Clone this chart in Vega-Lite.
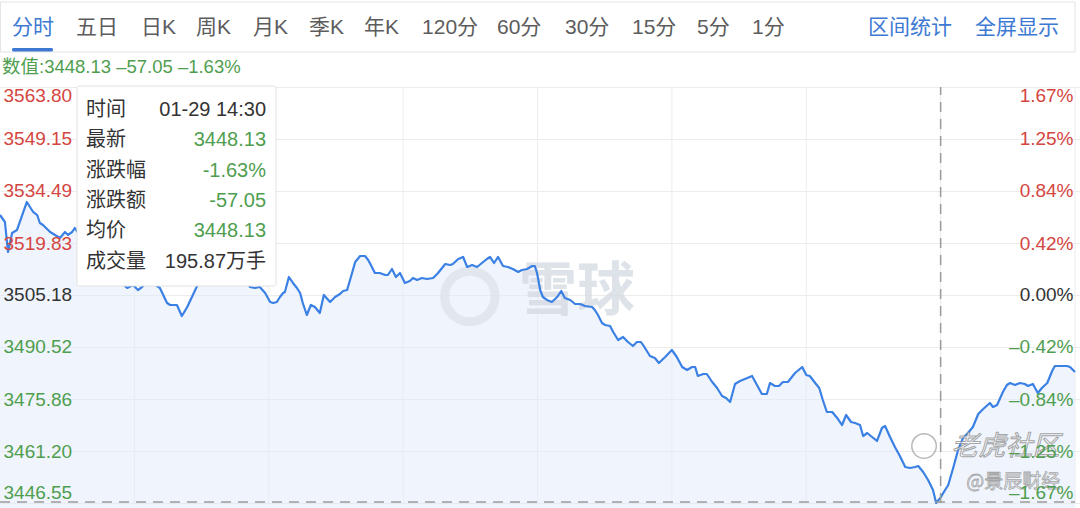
{
  "$schema": "https://vega.github.io/schema/vega-lite/v6.json",
  "width": 1080,
  "height": 508,
  "padding": 0,
  "autosize": "none",
  "background": "#ffffff",
  "config": {"view": {"stroke": null}, "font": "Liberation Sans, Noto Sans CJK SC"},
  "resolve": {"axis": {"y": "independent", "x": "independent"}},
  "datasets": {
    "series": [
      {"minute": 0, "price": 3527.72}, {"minute": 1.1, "price": 3525.75}, {"minute": 1.8, "price": 3517.29}, {"minute": 2.7, "price": 3522.65},
      {"minute": 3.8, "price": 3523.50}, {"minute": 6.0, "price": 3531.39}, {"minute": 7.4, "price": 3528.57}, {"minute": 8.3, "price": 3527.72},
      {"minute": 8.9, "price": 3525.47}, {"minute": 9.6, "price": 3524.90}, {"minute": 11.2, "price": 3522.93}, {"minute": 12.3, "price": 3522.09},
      {"minute": 13.4, "price": 3521.24}, {"minute": 14.5, "price": 3522.93}, {"minute": 15.2, "price": 3522.09}, {"minute": 16.1, "price": 3522.93},
      {"minute": 16.7, "price": 3524.06}, {"minute": 17.9, "price": 3521.80}, {"minute": 19.2, "price": 3519.27}, {"minute": 20.5, "price": 3517.29},
      {"minute": 21.9, "price": 3515.04}, {"minute": 23.2, "price": 3513.35}, {"minute": 24.6, "price": 3511.66}, {"minute": 25.9, "price": 3510.25},
      {"minute": 27.2, "price": 3508.56}, {"minute": 28.4, "price": 3507.15}, {"minute": 29.7, "price": 3507.99}, {"minute": 30.8, "price": 3506.58},
      {"minute": 31.7, "price": 3507.43}, {"minute": 33.0, "price": 3508.84}, {"minute": 34.4, "price": 3508.28}, {"minute": 35.7, "price": 3507.15},
      {"minute": 37.3, "price": 3502.92}, {"minute": 38.0, "price": 3502.36}, {"minute": 39.5, "price": 3502.36}, {"minute": 40.6, "price": 3499.26},
      {"minute": 41.8, "price": 3501.79}, {"minute": 44.0, "price": 3507.71}, {"minute": 45.3, "price": 3510.81}, {"minute": 46.9, "price": 3512.79},
      {"minute": 48.2, "price": 3514.48}, {"minute": 49.6, "price": 3512.22}, {"minute": 50.9, "price": 3513.63}, {"minute": 52.2, "price": 3515.60},
      {"minute": 53.6, "price": 3512.79}, {"minute": 54.7, "price": 3509.97}, {"minute": 55.8, "price": 3507.43}, {"minute": 56.9, "price": 3507.15},
      {"minute": 58.0, "price": 3507.43}, {"minute": 59.2, "price": 3505.74},
      {"minute": 60.3, "price": 3503.20}, {"minute": 61.0, "price": 3502.92}, {"minute": 61.8, "price": 3503.20}, {"minute": 62.5, "price": 3504.61},
      {"minute": 63.2, "price": 3505.74}, {"minute": 63.6, "price": 3506.02}, {"minute": 64.5, "price": 3510.25}, {"minute": 65.4, "price": 3508.56},
      {"minute": 66.3, "price": 3507.15}, {"minute": 67.0, "price": 3505.74}, {"minute": 67.6, "price": 3502.92}, {"minute": 68.5, "price": 3499.54},
      {"minute": 69.4, "price": 3502.36}, {"minute": 70.3, "price": 3501.79}, {"minute": 71.4, "price": 3500.10}, {"minute": 72.3, "price": 3505.18},
      {"minute": 73.7, "price": 3503.20}, {"minute": 74.8, "price": 3504.61}, {"minute": 75.9, "price": 3505.46}, {"minute": 76.6, "price": 3506.30},
      {"minute": 77.5, "price": 3506.58}, {"minute": 78.6, "price": 3511.38}, {"minute": 79.3, "price": 3514.48}, {"minute": 80.4, "price": 3516.17},
      {"minute": 81.5, "price": 3516.17}, {"minute": 82.2, "price": 3515.04}, {"minute": 82.8, "price": 3513.63}, {"minute": 83.7, "price": 3511.38},
      {"minute": 84.8, "price": 3511.38}, {"minute": 86.0, "price": 3510.81}, {"minute": 86.6, "price": 3510.81}, {"minute": 87.5, "price": 3512.50},
      {"minute": 88.4, "price": 3510.25}, {"minute": 89.3, "price": 3511.38}, {"minute": 90.4, "price": 3508.56}, {"minute": 91.5, "price": 3509.12},
      {"minute": 92.2, "price": 3509.97}, {"minute": 93.1, "price": 3509.40}, {"minute": 94.2, "price": 3509.97}, {"minute": 95.3, "price": 3509.69},
      {"minute": 96.7, "price": 3509.97}, {"minute": 97.8, "price": 3511.38}, {"minute": 99.4, "price": 3513.91}, {"minute": 100.5, "price": 3513.63},
      {"minute": 101.1, "price": 3513.91}, {"minute": 102.3, "price": 3515.32}, {"minute": 103.4, "price": 3515.89}, {"minute": 104.3, "price": 3513.07},
      {"minute": 105.4, "price": 3513.63}, {"minute": 106.5, "price": 3513.07}, {"minute": 107.6, "price": 3514.19}, {"minute": 108.7, "price": 3515.32},
      {"minute": 109.4, "price": 3515.89}, {"minute": 110.3, "price": 3514.19}, {"minute": 111.2, "price": 3515.89}, {"minute": 112.3, "price": 3513.35},
      {"minute": 113.4, "price": 3513.07}, {"minute": 114.5, "price": 3512.50}, {"minute": 115.7, "price": 3511.66}, {"minute": 116.5, "price": 3512.22},
      {"minute": 117.7, "price": 3512.50}, {"minute": 118.8, "price": 3513.35}, {"minute": 119.4, "price": 3513.35}, {"minute": 119.9, "price": 3511.38},
      {"minute": 120.6, "price": 3506.58}, {"minute": 121.2, "price": 3504.61}, {"minute": 122.1, "price": 3503.77}, {"minute": 123.2, "price": 3503.20},
      {"minute": 124.4, "price": 3504.61}, {"minute": 125.3, "price": 3506.30}, {"minute": 126.1, "price": 3504.33}, {"minute": 127.3, "price": 3503.77},
      {"minute": 128.4, "price": 3502.64}, {"minute": 129.5, "price": 3502.64}, {"minute": 130.6, "price": 3502.08}, {"minute": 132.2, "price": 3501.79},
      {"minute": 132.8, "price": 3500.95}, {"minute": 133.5, "price": 3499.54}, {"minute": 134.4, "price": 3497.28}, {"minute": 135.1, "price": 3496.72},
      {"minute": 136.2, "price": 3496.44}, {"minute": 136.9, "price": 3494.75}, {"minute": 138.0, "price": 3492.49}, {"minute": 139.1, "price": 3493.34},
      {"minute": 140.2, "price": 3491.93}, {"minute": 141.3, "price": 3490.80}, {"minute": 142.2, "price": 3491.93}, {"minute": 143.1, "price": 3491.93},
      {"minute": 144.0, "price": 3490.24}, {"minute": 145.1, "price": 3487.98}, {"minute": 146.2, "price": 3487.42}, {"minute": 147.1, "price": 3486.01},
      {"minute": 148.5, "price": 3487.70}, {"minute": 150.0, "price": 3489.67}, {"minute": 151.1, "price": 3487.70}, {"minute": 152.3, "price": 3484.88},
      {"minute": 153.4, "price": 3484.04}, {"minute": 154.5, "price": 3484.88}, {"minute": 155.2, "price": 3484.88}, {"minute": 155.8, "price": 3482.35},
      {"minute": 157.0, "price": 3482.91}, {"minute": 157.8, "price": 3482.91}, {"minute": 159.0, "price": 3480.65}, {"minute": 160.1, "price": 3478.96},
      {"minute": 161.2, "price": 3476.71}, {"minute": 162.1, "price": 3476.14}, {"minute": 163.0, "price": 3475.02}, {"minute": 164.1, "price": 3480.09},
      {"minute": 165.2, "price": 3480.94}, {"minute": 166.3, "price": 3481.50}, {"minute": 167.9, "price": 3482.35}, {"minute": 169.0, "price": 3479.81},
      {"minute": 170.1, "price": 3477.27}, {"minute": 171.2, "price": 3477.27}, {"minute": 171.9, "price": 3480.37}, {"minute": 173.0, "price": 3479.53},
      {"minute": 173.9, "price": 3479.53}, {"minute": 174.8, "price": 3480.65}, {"minute": 175.9, "price": 3480.65}, {"minute": 177.5, "price": 3483.19},
      {"minute": 179.1, "price": 3484.88}, {"minute": 180.0, "price": 3482.63}, {"minute": 180.8, "price": 3482.35}, {"minute": 182.0, "price": 3480.37},
      {"minute": 182.9, "price": 3478.96}, {"minute": 183.7, "price": 3475.58}, {"minute": 184.6, "price": 3472.20}, {"minute": 185.8, "price": 3472.20},
      {"minute": 186.9, "price": 3470.51}, {"minute": 188.0, "price": 3468.53}, {"minute": 188.9, "price": 3471.35}, {"minute": 190.0, "price": 3469.38},
      {"minute": 190.9, "price": 3469.10}, {"minute": 192.0, "price": 3468.53}, {"minute": 192.7, "price": 3465.43}, {"minute": 193.6, "price": 3466.28},
      {"minute": 194.7, "price": 3465.15}, {"minute": 195.8, "price": 3464.03}, {"minute": 196.9, "price": 3467.69}, {"minute": 197.6, "price": 3468.25},
      {"minute": 198.7, "price": 3465.15}, {"minute": 199.8, "price": 3462.33}, {"minute": 200.9, "price": 3459.80}, {"minute": 202.1, "price": 3456.70},
      {"minute": 203.2, "price": 3456.42}, {"minute": 204.3, "price": 3456.70}, {"minute": 205.0, "price": 3456.98}, {"minute": 206.1, "price": 3455.29},
      {"minute": 207.2, "price": 3453.03}, {"minute": 208.3, "price": 3450.21}, {"minute": 209.0, "price": 3446.55}, {"minute": 210.0, "price": 3448.13},
      {"minute": 211.0, "price": 3450.21}, {"minute": 211.7, "price": 3451.62}, {"minute": 212.8, "price": 3456.42}, {"minute": 213.9, "price": 3461.49},
      {"minute": 215.0, "price": 3464.87}, {"minute": 216.1, "price": 3466.28}, {"minute": 217.2, "price": 3467.97}, {"minute": 218.4, "price": 3471.63},
      {"minute": 219.5, "price": 3473.04}, {"minute": 221.0, "price": 3474.74}, {"minute": 221.7, "price": 3473.61}, {"minute": 222.6, "price": 3474.17},
      {"minute": 223.9, "price": 3477.84}, {"minute": 224.8, "price": 3479.81}, {"minute": 225.5, "price": 3480.37}, {"minute": 226.6, "price": 3479.81},
      {"minute": 227.7, "price": 3480.37}, {"minute": 228.8, "price": 3480.09}, {"minute": 229.5, "price": 3479.53}, {"minute": 230.6, "price": 3480.09},
      {"minute": 231.7, "price": 3477.55}, {"minute": 232.6, "price": 3478.96}, {"minute": 233.8, "price": 3480.37}, {"minute": 234.9, "price": 3483.75},
      {"minute": 235.5, "price": 3485.16}, {"minute": 237.1, "price": 3485.16}, {"minute": 238.2, "price": 3485.16}, {"minute": 238.9, "price": 3484.88},
      {"minute": 240.0, "price": 3483.47}
    ],
    "vgrid": [{"minute": 30}, {"minute": 60}, {"minute": 90}, {"minute": 120}, {"minute": 150}, {"minute": 180}, {"minute": 210}, {"minute": 240}],
    "tabs": [
      {"label": "分时", "at": 2.68}, {"label": "五日", "at": 16.97}, {"label": "日K", "at": 31.48}, {"label": "周K", "at": 43.76},
      {"label": "月K", "at": 56.49}, {"label": "季K", "at": 68.99}, {"label": "年K", "at": 81.27}, {"label": "120分", "at": 94.22},
      {"label": "60分", "at": 110.96}, {"label": "30分", "at": 126.14}, {"label": "15分", "at": 141.10}, {"label": "5分", "at": 155.62},
      {"label": "1分", "at": 167.89}, {"label": "区间统计", "at": 193.79}, {"label": "全屏显示", "at": 217.68}
    ],
    "tip": [
      {"k": "时间", "v": "01-29 14:30", "p": 3557.32},
      {"k": "最新", "v": "3448.13", "p": 3548.86},
      {"k": "涨跌幅", "v": "-1.63%", "p": 3540.12},
      {"k": "涨跌额", "v": "-57.05", "p": 3531.67},
      {"k": "均价", "v": "3448.13", "p": 3523.21},
      {"k": "成交量", "v": "195.87万手", "p": 3514.48}
    ],
    "one": [{}]
  },
  "layer": [
    {
      "data": {"name": "vgrid"},
      "mark": {"type": "rule", "color": "#ececec", "strokeWidth": 1},
      "encoding": {
        "x": {"field": "minute", "type": "quantitative", "scale": {"domain": [0, 241.116], "nice": false, "zero": false}, "axis": null},
        "y": {"datum": 3446.55, "type": "quantitative", "scale": {"domain": [3445.14, 3588.32], "nice": false, "zero": false}, "axis": null},
        "y2": {"datum": 3563.80}
      }
    },
    {
      "data": {"name": "series"},
      "mark": {"type": "area", "color": "#e3edfb", "opacity": 0.55},
      "encoding": {
        "x": {"field": "minute", "type": "quantitative", "scale": {"domain": [0, 241.116], "nice": false, "zero": false}, "axis": null},
        "y": {"field": "price", "type": "quantitative", "scale": {"domain": [3445.14, 3588.32], "nice": false, "zero": false},
          "axis": {
            "orient": "left", "title": null, "values": [3446.55, 3461.20, 3475.86, 3490.52, 3505.18, 3519.83, 3534.49, 3549.15, 3563.80],
            "domain": false, "ticks": false, "labels": false, "grid": true, "gridColor": "#ececec", "gridWidth": 1, "zindex": 0
          }
        },
        "y2": {"datum": 3445.14}
      }
    },
    {
      "data": {"name": "one"},
      "mark": {"type": "point", "shape": "circle", "filled": false, "stroke": "#dde2e9", "strokeWidth": 9, "size": 2550},
      "encoding": {
        "x": {"datum": 104.9, "type": "quantitative", "scale": {"domain": [0, 241.116], "nice": false, "zero": false}, "axis": null},
        "y": {"datum": 3504.75, "type": "quantitative", "scale": {"domain": [3445.14, 3588.32], "nice": false, "zero": false}, "axis": null}
      }
    },
    {
      "data": {"name": "one"},
      "mark": {"type": "text", "text": "雪球", "font": "Noto Sans CJK SC", "fontSize": 58, "fontWeight": "bold", "color": "#d6dce4", "opacity": 0.8, "align": "center", "baseline": "middle"},
      "encoding": {
        "x": {"datum": 128.8, "type": "quantitative", "scale": {"domain": [0, 241.116], "nice": false, "zero": false}, "axis": null},
        "y": {"datum": 3505.74, "type": "quantitative", "scale": {"domain": [3445.14, 3588.32], "nice": false, "zero": false}, "axis": null}
      }
    },
    {
      "data": {"name": "series"},
      "mark": {"type": "line", "color": "#3b80e4", "strokeWidth": 2.2, "strokeJoin": "round"},
      "encoding": {
        "x": {"field": "minute", "type": "quantitative", "scale": {"domain": [0, 241.116], "nice": false, "zero": false}, "axis": null},
        "y": {"field": "price", "type": "quantitative", "scale": {"domain": [3445.14, 3588.32], "nice": false, "zero": false},
          "axis": {
            "orient": "right", "title": null, "values": [3446.55, 3461.20, 3475.86, 3490.52, 3505.18, 3519.83, 3534.49, 3549.15, 3563.80],
            "labelExpr": "(datum.value < 3505 ? '–' : '') + format(abs(datum.value - 3505.18) / 3505.18 * 100, '.2f') + '%'",
            "domain": false, "ticks": false, "tickSize": 0, "grid": false,
            "labelAlign": "right", "labelPadding": -7, "labelFont": "Liberation Sans", "labelFontSize": 19,
            "labelColor": {"condition": [{"test": "datum.value > 3506", "value": "#d4463f"}, {"test": "datum.value < 3504", "value": "#4f9e4f"}], "value": "#333333"},
            "labelBaseline": {"condition": [{"test": "datum.value > 3563", "value": "top"}, {"test": "datum.value < 3447", "value": "bottom"}], "value": "middle"},
            "labelOverlap": false, "labelBound": false, "labelFlush": false, "zindex": 1
          }
        }
      }
    },
    {
      "data": {"name": "one"},
      "mark": {"type": "rule", "color": "#9a9a9a", "strokeWidth": 1.5, "strokeDash": [10, 7]},
      "encoding": {
        "x": {"datum": 210, "type": "quantitative", "scale": {"domain": [0, 241.116], "nice": false, "zero": false}, "axis": null},
        "y": {"datum": 3446.55, "type": "quantitative", "scale": {"domain": [3445.14, 3588.32], "nice": false, "zero": false}, "axis": null},
        "y2": {"datum": 3563.80}
      }
    },
    {
      "data": {"name": "one"},
      "mark": {"type": "rule", "color": "#9a9a9a", "strokeWidth": 1.5, "strokeDash": [10, 7]},
      "encoding": {
        "x": {"datum": 0, "type": "quantitative", "scale": {"domain": [0, 241.116], "nice": false, "zero": false}, "axis": null},
        "x2": {"datum": 240},
        "y": {"datum": 3446.80, "type": "quantitative", "scale": {"domain": [3445.14, 3588.32], "nice": false, "zero": false}, "axis": null}
      }
    },
    {
      "data": {"name": "one"},
      "mark": {"type": "rect", "fill": "#ffffff", "stroke": "#e2e2e2", "strokeWidth": 1, "cornerRadius": 2},
      "encoding": {
        "x": {"datum": 17.19, "type": "quantitative", "scale": {"domain": [0, 241.116], "nice": false, "zero": false}, "axis": null},
        "x2": {"datum": 61.62},
        "y": {"datum": 3564.08, "type": "quantitative", "scale": {"domain": [3445.14, 3588.32], "nice": false, "zero": false}, "axis": null},
        "y2": {"datum": 3507.71}
      }
    },
    {
      "data": {"name": "tip"},
      "mark": {"type": "text", "align": "left", "baseline": "middle", "fontSize": 20, "color": "#333333"},
      "encoding": {
        "x": {"datum": 19.2, "type": "quantitative", "scale": {"domain": [0, 241.116], "nice": false, "zero": false}, "axis": null},
        "y": {"field": "p", "type": "quantitative", "scale": {"domain": [3445.14, 3588.32], "nice": false, "zero": false},
          "axis": {
            "orient": "left", "title": null, "values": [3446.55, 3461.20, 3475.86, 3490.52, 3505.18, 3519.83, 3534.49, 3549.15, 3563.80],
            "format": ".2f", "domain": false, "ticks": false, "tickSize": 0, "grid": false,
            "labelAlign": "left", "labelPadding": -3, "labelFont": "Liberation Sans", "labelFontSize": 19,
            "labelColor": {"condition": [{"test": "datum.value > 3506", "value": "#d4463f"}, {"test": "datum.value < 3504", "value": "#4f9e4f"}], "value": "#333333"},
            "labelBaseline": {"condition": [{"test": "datum.value > 3563", "value": "top"}, {"test": "datum.value < 3447", "value": "bottom"}], "value": "middle"},
            "labelOverlap": false, "labelBound": false, "labelFlush": false, "zindex": 1
          }
        },
        "text": {"field": "k"}
      }
    },
    {
      "data": {"name": "tip"},
      "mark": {"type": "text", "align": "right", "baseline": "middle", "fontSize": 20},
      "encoding": {
        "x": {"datum": 59.39, "type": "quantitative", "scale": {"domain": [0, 241.116], "nice": false, "zero": false}, "axis": null},
        "y": {"field": "p", "type": "quantitative", "scale": {"domain": [3445.14, 3588.32], "nice": false, "zero": false}, "axis": null},
        "text": {"field": "v"},
        "color": {"condition": {"test": "datum.k === '时间' || datum.k === '成交量'", "value": "#333333"}, "value": "#4f9e4f"}
      }
    },
    {
      "data": {"name": "one"},
      "mark": {"type": "rect", "fill": "#ffffff", "stroke": "#e4e4e4", "strokeWidth": 1},
      "encoding": {
        "x": {"datum": 0.1, "type": "quantitative", "scale": {"domain": [0, 241.116], "nice": false, "zero": false}, "axis": null},
        "x2": {"datum": 240},
        "y": {"datum": 3587.76, "type": "quantitative", "scale": {"domain": [3445.14, 3588.32], "nice": false, "zero": false}, "axis": null},
        "y2": {"datum": 3573.67}
      }
    },
    {
      "data": {"name": "one"},
      "mark": {"type": "rect", "fill": "#3d79d3", "cornerRadius": 1.5},
      "encoding": {
        "x": {"datum": 2.68, "type": "quantitative", "scale": {"domain": [0, 241.116], "nice": false, "zero": false}, "axis": null},
        "x2": {"datum": 11.83},
        "y": {"datum": 3574.79, "type": "quantitative", "scale": {"domain": [3445.14, 3588.32], "nice": false, "zero": false}, "axis": null},
        "y2": {"datum": 3573.81}
      }
    },
    {
      "data": {"name": "tabs"},
      "mark": {"type": "text", "align": "left", "baseline": "middle", "fontSize": 21},
      "encoding": {
        "x": {"field": "at", "type": "quantitative", "scale": {"domain": [0, 241.116], "nice": false, "zero": false}, "axis": null},
        "y": {"datum": 3580.43, "type": "quantitative", "scale": {"domain": [3445.14, 3588.32], "nice": false, "zero": false}, "axis": null},
        "text": {"field": "label"},
        "color": {"condition": {"test": "indexof(['分时', '区间统计', '全屏显示'], datum.label) >= 0", "value": "#3d79d3"}, "value": "#5c5c5c"}
      }
    },
    {
      "data": {"name": "one"},
      "mark": {"type": "text", "text": "数值:3448.13 –57.05 –1.63%", "align": "left", "baseline": "middle", "fontSize": 18.5, "color": "#4f9e4f"},
      "encoding": {
        "x": {"datum": 0.45, "type": "quantitative", "scale": {"domain": [0, 241.116], "nice": false, "zero": false}, "axis": null},
        "y": {"datum": 3569.44, "type": "quantitative", "scale": {"domain": [3445.14, 3588.32], "nice": false, "zero": false}, "axis": null}
      }
    },
    {
      "data": {"name": "one"},
      "mark": {"type": "point", "shape": "circle", "filled": false, "stroke": "#a8a8a8", "strokeWidth": 1.5, "size": 600, "opacity": 0.8},
      "encoding": {
        "x": {"datum": 206.3, "type": "quantitative", "scale": {"domain": [0, 241.116], "nice": false, "zero": false}, "axis": null},
        "y": {"datum": 3462.6, "type": "quantitative", "scale": {"domain": [3445.14, 3588.32], "nice": false, "zero": false}, "axis": null}
      }
    },
    {
      "data": {"name": "one"},
      "mark": {"type": "text", "text": "老虎社区", "font": "Noto Sans CJK SC", "fontSize": 27, "fontStyle": "italic", "fill": "#ffffff", "fillOpacity": 0.55, "stroke": "#8e8e8e", "strokeWidth": 1, "strokeOpacity": 0.8, "align": "center", "baseline": "middle"},
      "encoding": {
        "x": {"datum": 224.5, "type": "quantitative", "scale": {"domain": [0, 241.116], "nice": false, "zero": false}, "axis": null},
        "y": {"datum": 3462.33, "type": "quantitative", "scale": {"domain": [3445.14, 3588.32], "nice": false, "zero": false}, "axis": null}
      }
    },
    {
      "data": {"name": "one"},
      "mark": {"type": "text", "text": "@景辰财经", "font": "Noto Sans CJK SC", "fontSize": 19, "fill": "#ffffff", "fillOpacity": 0.55, "stroke": "#8e8e8e", "strokeWidth": 0.8, "strokeOpacity": 0.8, "align": "center", "baseline": "middle"},
      "encoding": {
        "x": {"datum": 226.2, "type": "quantitative", "scale": {"domain": [0, 241.116], "nice": false, "zero": false}, "axis": null},
        "y": {"datum": 3452.47, "type": "quantitative", "scale": {"domain": [3445.14, 3588.32], "nice": false, "zero": false}, "axis": null}
      }
    }
  ]
}
